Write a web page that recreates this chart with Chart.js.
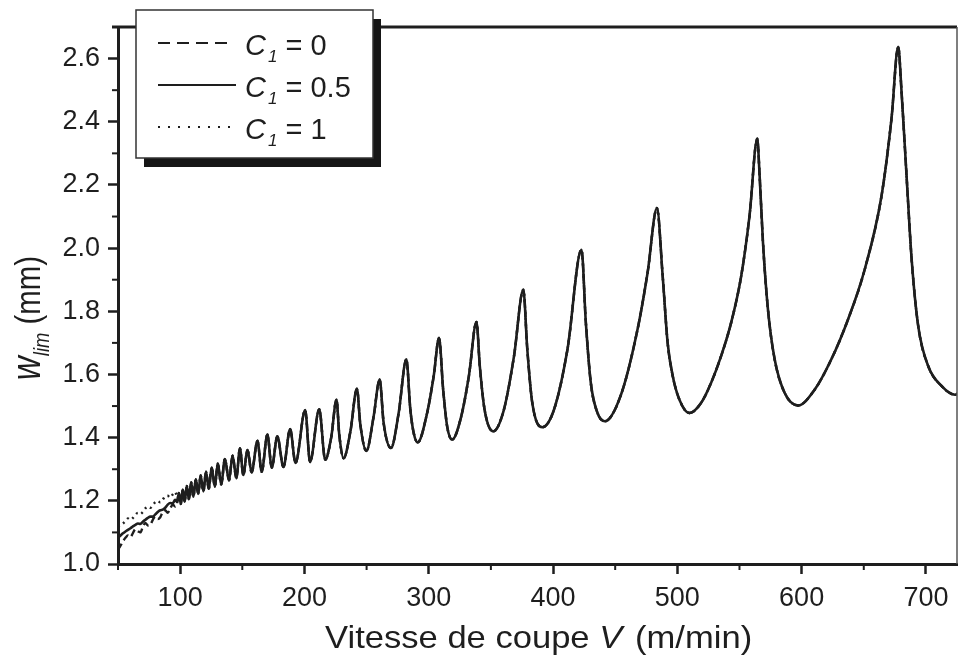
<!DOCTYPE html>
<html><head><meta charset="utf-8">
<script src="https://cdn.jsdelivr.net/npm/chart.js@4/dist/chart.umd.min.js"></script>
<style>html,body{margin:0;padding:0;background:#fff;}#wrap{position:relative;width:958px;height:666px;}</style>
</head><body><div id="wrap"><canvas id="c" width="958" height="666"></canvas></div>
<script>
// ---- data ----
// low-speed part, where the three curves differ
const vLow = [50,52,54,56,58,60,62,64,66,68,70,72,74,76,78,80,82,84,86,88,90,92,94,96,97.5];
const wLowC0 = [1.045,1.058,1.072,1.083,1.090,1.085,1.098,1.110,1.104,1.100,1.118,1.130,1.122,1.124,1.140,1.150,1.142,1.148,1.165,1.170,1.162,1.175,1.188,1.182,1.192];
const wLowC05 = [1.083,1.090,1.097,1.103,1.108,1.113,1.119,1.124,1.128,1.127,1.134,1.140,1.146,1.150,1.150,1.157,1.165,1.170,1.172,1.178,1.188,1.193,1.192,1.203,1.196];
const wLowC1 = [1.118,1.122,1.128,1.136,1.144,1.140,1.146,1.156,1.162,1.158,1.165,1.176,1.182,1.178,1.186,1.196,1.200,1.195,1.204,1.214,1.216,1.210,1.220,1.228,1.215];
// higher speeds, where the three curves coincide
const vHigh = [99.0,100.5,102.1,103.6,105.4,107.0,108.9,110.6,112.6,114.5,116.5,118.7,120.8,123.0,125.4,127.9,130.3,133.0,136.0,139.3,142.2,145.2,148.1,150.8,154.2,157.5,162.2,165.6,170.2,173.7,178.2,183.1,188.5,192.8,200.6,204.5,211.9,216.7,221.5,225.8,228.0,231.5,237.0,242.2,245.0,249.8,255.7,260.5,263.7,269.6,275.8,282.0,285.2,287.9,291.1,298.7,304.0,308.3,311.6,314.8,318.8,325.5,332.3,338.4,341.1,344.9,351.9,360.5,368.6,376.1,379.3,383.3,391.4,400.8,411.6,422.9,426.4,430.4,435.8,441.7,454.6,468.0,476.1,483.6,488.2,492.2,496.3,501.6,509.7,519.1,527.2,535.2,543.3,551.4,558.1,564.3,566.2,568.9,572.9,578.3,586.3,597.1,610.5,623.9,637.4,650.8,664.3,672.3,677.7,680.4,684.4,688.5,693.8,701.9,712.7,723.4,726.0];
const wHigh = [1.225,1.190,1.235,1.198,1.247,1.205,1.258,1.213,1.268,1.222,1.280,1.230,1.292,1.238,1.305,1.245,1.318,1.252,1.332,1.265,1.343,1.272,1.366,1.282,1.361,1.290,1.390,1.292,1.410,1.305,1.404,1.307,1.427,1.320,1.487,1.323,1.490,1.330,1.400,1.520,1.410,1.335,1.420,1.555,1.440,1.358,1.468,1.584,1.447,1.367,1.478,1.648,1.489,1.415,1.385,1.478,1.595,1.716,1.552,1.436,1.394,1.457,1.595,1.766,1.626,1.489,1.420,1.489,1.658,1.868,1.679,1.510,1.433,1.489,1.679,1.995,1.764,1.573,1.478,1.452,1.535,1.743,1.923,2.127,1.912,1.700,1.595,1.521,1.478,1.510,1.574,1.658,1.764,1.912,2.103,2.346,2.230,2.018,1.806,1.648,1.542,1.502,1.552,1.648,1.775,1.933,2.166,2.410,2.637,2.494,2.230,1.965,1.753,1.626,1.563,1.536,1.540];
const xTickValues = [100,200,300,400,500,600,700];
const xMinorTicks = [50,150,250,350,450,550,650];
const yTickValues = [1.0,1.2,1.4,1.6,1.8,2.0,2.2,2.4,2.6];
const yMinorTicks = [1.1,1.3,1.5,1.7,1.9,2.1,2.3,2.5,2.7];
const legendValues = ['0','0.5','1'];

function pts(xs, ys){ return xs.map((x,i)=>({x:x, y:ys[i]})); }
const INK = '#1e1e1e';
const FONT = '"Liberation Sans", Arial, Helvetica, sans-serif';

const decor = {
  id:'decor',
  afterDraw(chart){
    const ctx = chart.ctx, ca = chart.chartArea, xs = chart.scales.x, ys = chart.scales.y;
    ctx.save();
    ctx.strokeStyle = INK; ctx.fillStyle = INK;
    // frame top & right
    ctx.lineWidth = 3;
    ctx.beginPath(); ctx.moveTo(ca.left-6, ca.top); ctx.lineTo(ca.right, ca.top); ctx.stroke();
    ctx.lineWidth = 1.5; ctx.strokeStyle = '#555';
    ctx.beginPath(); ctx.moveTo(ca.right, ca.top); ctx.lineTo(ca.right, ca.bottom); ctx.stroke();
    // minor ticks
    ctx.strokeStyle = INK; ctx.lineWidth = 2;
    yMinorTicks.forEach(v=>{ const p = ys.getPixelForValue(v); ctx.beginPath(); ctx.moveTo(ca.left-6,p); ctx.lineTo(ca.left,p); ctx.stroke(); });
    xMinorTicks.forEach(v=>{ const p = xs.getPixelForValue(v); ctx.beginPath(); ctx.moveTo(p,ca.bottom); ctx.lineTo(p,ca.bottom+6); ctx.stroke(); });
    // x title
    const segs = [['Vitesse de coupe ', 'normal'], ['V', 'italic'], [' (m/min)', 'normal']];
    const fs = 32, sx = 1.08;
    let tot = 0;
    segs.forEach(s=>{ ctx.font = s[1]+' '+fs+'px '+FONT; tot += ctx.measureText(s[0]).width; });
    ctx.save();
    ctx.translate(537 - tot*sx/2, 648); ctx.scale(sx,1);
    let x = 0; ctx.textBaseline = 'alphabetic'; ctx.textAlign = 'left';
    segs.forEach(s=>{ ctx.font = s[1]+' '+fs+'px '+FONT; ctx.fillText(s[0], x, 0); x += ctx.measureText(s[0]).width + (s[1]==='italic'?3:0); });
    ctx.restore();
    // y title
    ctx.save();
    const ysegs = [['w','italic',36,0],['lim','italic',20,8],[' (mm)','normal',32,0]];
    let ytot = 0;
    ysegs.forEach(s=>{ ctx.font = s[1]+' '+s[2]+'px '+FONT; ytot += ctx.measureText(s[0]).width; });
    ctx.translate(40, 318); ctx.rotate(-Math.PI/2); ctx.scale(0.92,1.12);
    x = -ytot/2;
    ysegs.forEach(s=>{ ctx.font = s[1]+' '+s[2]+'px '+FONT; ctx.fillText(s[0], x, s[3]); x += ctx.measureText(s[0]).width; });
    ctx.restore();
    // legend
    const bx = 136, by = 10, bw = 237, bh = 148;
    ctx.fillStyle = '#161616'; ctx.fillRect(bx+8, by+9, bw, bh);
    ctx.fillStyle = '#fff'; ctx.fillRect(bx, by, bw, bh);
    ctx.strokeStyle = '#333'; ctx.lineWidth = 1.5; ctx.strokeRect(bx, by, bw, bh);
    const dashes = [[12,7],[],[2,8]];
    chart.data.datasets.slice().sort((a,b)=>a.legendIndex-b.legendIndex).forEach((ds,i)=>{
      const base = 55 + i*42, ly = base - 12;
      ctx.strokeStyle = INK; ctx.lineWidth = 2.2; ctx.setLineDash(dashes[i]);
      ctx.beginPath(); ctx.moveTo(158, ly); ctx.lineTo(i===1?236:232, ly); ctx.stroke();
      ctx.setLineDash([]);
      ctx.fillStyle = INK; ctx.textBaseline = 'alphabetic';
      let lx = 245;
      ctx.font = 'italic 29px '+FONT; ctx.fillText('C', lx, base); lx += ctx.measureText('C').width + 2;
      ctx.font = 'italic 17px '+FONT; ctx.fillText('1', lx, base+7); lx += ctx.measureText('1').width;
      ctx.font = 'normal 29px '+FONT; ctx.fillText(' = '+legendValues[i], lx, base);
    });
    ctx.restore();
  }
};

const lineCommon = { showLine:true, borderColor:INK, pointRadius:0, cubicInterpolationMode:'monotone' };
new Chart(document.getElementById('c'), {
  type: 'scatter',
  data: { datasets: [
    Object.assign({ label:'C1 = 0.5', legendIndex:1, data: pts(vLow,wLowC05).concat(pts(vHigh,wHigh)), borderWidth:2.6, order:0 }, lineCommon),
    Object.assign({ label:'C1 = 0', legendIndex:0, data: pts(vLow,wLowC0).concat(pts(vHigh,wHigh)), borderWidth:2.4, borderDash:[7,4], order:1 }, lineCommon),
    Object.assign({ label:'C1 = 1', legendIndex:2, data: pts(vLow,wLowC1).concat(pts(vHigh,wHigh)), borderWidth:2.4, borderDash:[2,4], order:2 }, lineCommon)
  ]},
  options: {
    responsive:false, animation:false, devicePixelRatio:1,
    layout:{ padding:{ top:27, right:1, left:0, bottom:0 } },
    plugins:{ legend:{display:false}, tooltip:{enabled:false} },
    scales:{
      x:{ type:'linear', min:50, max:725,
        afterBuildTicks: s=>{ s.ticks = xTickValues.map(v=>({value:v})); },
        afterFit: s=>{ s.height = 102; },
        ticks:{ font:{family:FONT, size:27}, color:INK, padding:8, maxRotation:0, autoSkip:false, callback:v=>String(v) },
        grid:{ drawOnChartArea:false, drawTicks:true, tickLength:10, tickWidth:2.5, color:INK },
        border:{ display:true, color:INK, width:3 },
        title:{ display:false }
      },
      y:{ type:'linear', min:1.0, max:2.7,
        afterBuildTicks: s=>{ s.ticks = yTickValues.map(v=>({value:v})); },
        afterFit: s=>{ s.width = 118; },
        ticks:{ font:{family:FONT, size:27}, color:INK, padding:8, autoSkip:false, callback:v=>Number(v).toFixed(1) },
        grid:{ drawOnChartArea:false, drawTicks:true, tickLength:10, tickWidth:2.5, color:INK },
        border:{ display:true, color:INK, width:3 },
        title:{ display:false }
      }
    }
  },
  plugins:[decor]
});
</script></body></html>
